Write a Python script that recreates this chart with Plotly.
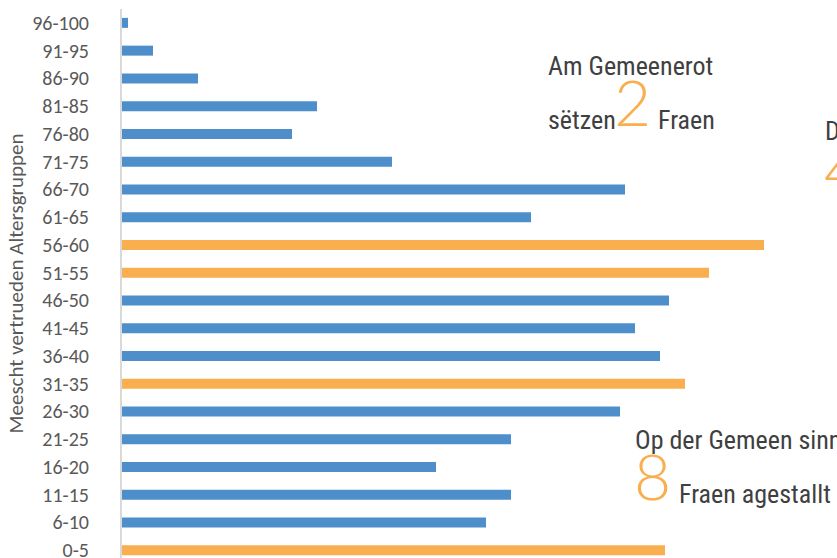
import plotly.graph_objects as go

categories = ["96-100", "91-95", "86-90", "81-85", "76-80", "71-75", "66-70", "61-65",
              "56-60", "51-55", "46-50", "41-45", "36-40", "31-35", "26-30", "21-25",
              "16-20", "11-15", "6-10", "0-5"]
values = [1.2, 6.2, 15.2, 39.0, 34.0, 54.0, 100.6, 81.8,
          128.4, 117.4, 109.4, 102.6, 107.6, 112.6, 99.6, 77.8,
          62.8, 77.8, 72.8, 108.6]
highlight = ["56-60", "51-55", "31-35", "0-5"]

BLUE = "#4E8FCB"
ORANGE = "#F9AF4F"
colors = [ORANGE if c in highlight else BLUE for c in categories]

fig = go.Figure(go.Bar(
    x=values, y=categories, orientation="h",
    marker=dict(color=colors, line=dict(width=0)),
    width=0.36,
))

FW, FH = 837, 558
L, T, B = 122, 9, FH           # plot area in page coordinates
W, H = FW - L, B - T
def px(xw): return (xw - L) / W
def py(yw): return (B - yw) / H

TXT = "#404040"
NARROW = "Roboto Condensed, Roboto, sans-serif"
THIN = dict(family="Lato", size=64, color=ORANGE, weight=300)

ann = []
def add(text, x, y, font, xanchor="left"):
    ann.append(dict(text=text, x=px(x), y=py(y), xref="paper", yref="paper",
                    showarrow=False, xanchor=xanchor, yanchor="middle", font=font))

f26 = dict(family=NARROW, size=26, color=TXT)
add("Am Gemeenerot", 546, 66, f26)
add("sëtzen", 546, 120, f26)
add("2", 612, 102, THIN)
add("Fraen", 656, 120, f26)
add("D", 823, 131, f26)
add("4", 822, 168, THIN)
add("Op der Gemeen sinn", 633, 440, f26)
add("8", 632, 475, THIN)
add("Fraen agestallt", 677, 494, f26)

fig.update_layout(
    width=FW, height=FH,
    margin=dict(l=L, r=0, t=T, b=FH - B),
    paper_bgcolor="white", plot_bgcolor="white",
    showlegend=False,
    annotations=ann,
    xaxis=dict(range=[0, W / 5.0], visible=False, fixedrange=True, automargin=False),
    yaxis=dict(
        categoryorder="array", categoryarray=categories[::-1],
        range=[-0.28, 19.5], automargin=False,
        showline=True, linecolor="#D9D9D9", linewidth=2,
        showgrid=False, ticks="",
        ticklabelstandoff=27,
        tickfont=dict(family="Carlito, Open Sans, sans-serif", size=20, color="#595959"),
        title=dict(text="Meescht vertrueden Altersgruppen", standoff=3,
                   font=dict(family="Carlito, Open Sans, sans-serif", size=21, color="#595959")),
    ),
)

fig.write_html("out.html",
               config={"displayModeBar": False},
               post_script="document.body.style.margin='0';document.body.style.overflow='hidden';")
